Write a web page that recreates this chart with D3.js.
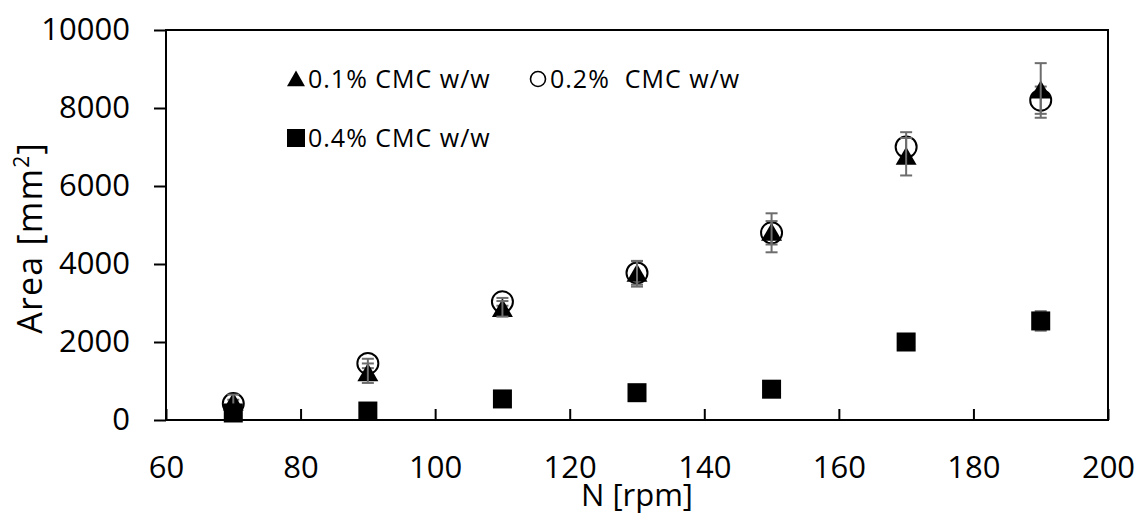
<!DOCTYPE html>
<html>
<head>
<meta charset="utf-8">
<script src="https://cdn.jsdelivr.net/npm/d3@7"></script>
<style>
  body { margin: 0; background: #fff; }
  svg text { font-family: "Open Sans", sans-serif; fill: #000; }
</style>
</head>
<body>
<div id="chart"></div>
<script>
// rotational speed (rpm)
const speeds = [70, 90, 110, 130, 150, 170, 190];

// area (mm2) per CMC concentration, with std deviation
const cmc01 = [450, 1200, 2850, 3750, 4800, 6750, 8450];
const cmc01Err = [200, 250, 200, 330, 500, 480, 700];
const cmc02 = [420, 1450, 3030, 3770, 4800, 7000, 8200];
const cmc02Err = [100, 120, 100, 300, 300, 380, 350];
const cmc04 = [180, 230, 540, 700, 790, 2000, 2540];
const cmc04Err = [40, 40, 60, 60, 80, 100, 250];

const seriesNames = ['0.1% CMC w/w', '0.2%  CMC w/w', '0.4% CMC w/w'];
const xTicks = [60, 80, 100, 120, 140, 160, 180, 200];
const yTicks = [0, 2000, 4000, 6000, 8000, 10000];

const width = 1139, height = 518;
const margin = { top: 30, right: 31, bottom: 98, left: 166 };

const svg = d3.select('#chart').append('svg')
  .attr('width', width)
  .attr('height', height);

const x = d3.scaleLinear().domain([60, 200]).range([margin.left, width - margin.right]);
const y = d3.scaleLinear().domain([0, 10000]).range([height - margin.bottom, margin.top]);

// frame
svg.append('rect')
  .attr('x', x(60)).attr('y', y(10000))
  .attr('width', x(200) - x(60)).attr('height', y(0) - y(10000))
  .attr('fill', 'none').attr('stroke', '#000').attr('stroke-width', 2);

// y axis (ticks outside)
const yAxis = svg.append('g')
  .attr('transform', `translate(${x(60)},0)`)
  .call(d3.axisLeft(y).tickValues(yTicks).tickSize(12).tickPadding(24).tickFormat(d3.format('d')));
yAxis.select('.domain').remove();
yAxis.selectAll('line').attr('stroke', '#000').attr('stroke-width', 2);
yAxis.selectAll('text').attr('font-size', 31).attr('font-family', '"Open Sans", sans-serif');

// x axis (ticks inside)
const xAxis = svg.append('g')
  .attr('transform', `translate(0,${y(0)})`)
  .call(d3.axisBottom(x).tickValues(xTicks).tickSize(-11).tickPadding(36).tickFormat(d3.format('d')));
xAxis.select('.domain').remove();
xAxis.selectAll('line').attr('stroke', '#000').attr('stroke-width', 2);
xAxis.selectAll('text').attr('font-size', 31).attr('font-family', '"Open Sans", sans-serif');

// axis titles
svg.append('text')
  .attr('x', (x(60) + x(200)) / 2)
  .attr('y', 506)
  .attr('text-anchor', 'middle')
  .attr('font-size', 31)
  .text('N [rpm]');

const yTitle = svg.append('text')
  .attr('transform', `translate(42,238) rotate(-90)`)
  .attr('text-anchor', 'middle')
  .attr('font-size', 34)
  .attr('letter-spacing', 1.2);
yTitle.append('tspan').text('Area [mm');
yTitle.append('tspan').attr('font-size', 21).attr('dy', -13).text('2');
yTitle.append('tspan').attr('dy', 13).text(']');

// error bars
function errorBars(vals, errs) {
  const g = svg.append('g').attr('stroke', '#6d6d6d').attr('stroke-width', 2);
  speeds.forEach((s, i) => {
    const cx = x(s);
    const y1 = y(vals[i] + errs[i]);
    const y2 = y(vals[i] - errs[i]);
    g.append('line').attr('x1', cx).attr('x2', cx).attr('y1', y1).attr('y2', y2);
    g.append('line').attr('x1', cx - 6).attr('x2', cx + 6).attr('y1', y1).attr('y2', y1);
    g.append('line').attr('x1', cx - 6).attr('x2', cx + 6).attr('y1', y2).attr('y2', y2);
  });
}

const tri = d3.symbol().type(d3.symbolTriangle).size(190);

// 0.2% circles
svg.append('g').selectAll('circle')
  .data(speeds)
  .join('circle')
  .attr('cx', d => x(d))
  .attr('cy', (d, i) => y(cmc02[i]))
  .attr('r', 10.5)
  .attr('fill', '#fff')
  .attr('stroke', '#000')
  .attr('stroke-width', 2);
errorBars(cmc02, cmc02Err);

// 0.1% triangles
svg.append('g').selectAll('path')
  .data(speeds)
  .join('path')
  .attr('d', tri)
  .attr('transform', (d, i) => `translate(${x(d)},${y(cmc01[i]) + 2})`)
  .attr('fill', '#000');
errorBars(cmc01, cmc01Err);

// 0.4% squares
errorBars(cmc04, cmc04Err);
svg.append('g').selectAll('rect')
  .data(speeds)
  .join('rect')
  .attr('x', d => x(d) - 9.5)
  .attr('y', (d, i) => y(cmc04[i]) - 9.5)
  .attr('width', 19)
  .attr('height', 19)
  .attr('fill', '#000');

// legend
const legend = svg.append('g').attr('font-size', 25).attr('letter-spacing', 1);
const legendItems = [
  { name: seriesNames[0], mx: 296, my: 79, kind: 'tri' },
  { name: seriesNames[1], mx: 538, my: 79, kind: 'circle' },
  { name: seriesNames[2], mx: 296, my: 138, kind: 'square' }
];
legendItems.forEach(it => {
  if (it.kind === 'tri') {
    legend.append('path')
      .attr('d', d3.symbol().type(d3.symbolTriangle).size(140)())
      .attr('transform', `translate(${it.mx},${it.my + 2})`);
  } else if (it.kind === 'circle') {
    legend.append('circle').attr('cx', it.mx).attr('cy', it.my).attr('r', 7.5)
      .attr('fill', '#fff').attr('stroke', '#000').attr('stroke-width', 1.6);
  } else {
    legend.append('rect').attr('x', it.mx - 9).attr('y', it.my - 9)
      .attr('width', 18).attr('height', 18);
  }
  legend.append('text')
    .attr('x', it.mx + 12)
    .attr('y', it.my + 9)
    .attr('xml:space', 'preserve')
    .style('white-space', 'pre')
    .text(it.name);
});
</script>
</body>
</html>
